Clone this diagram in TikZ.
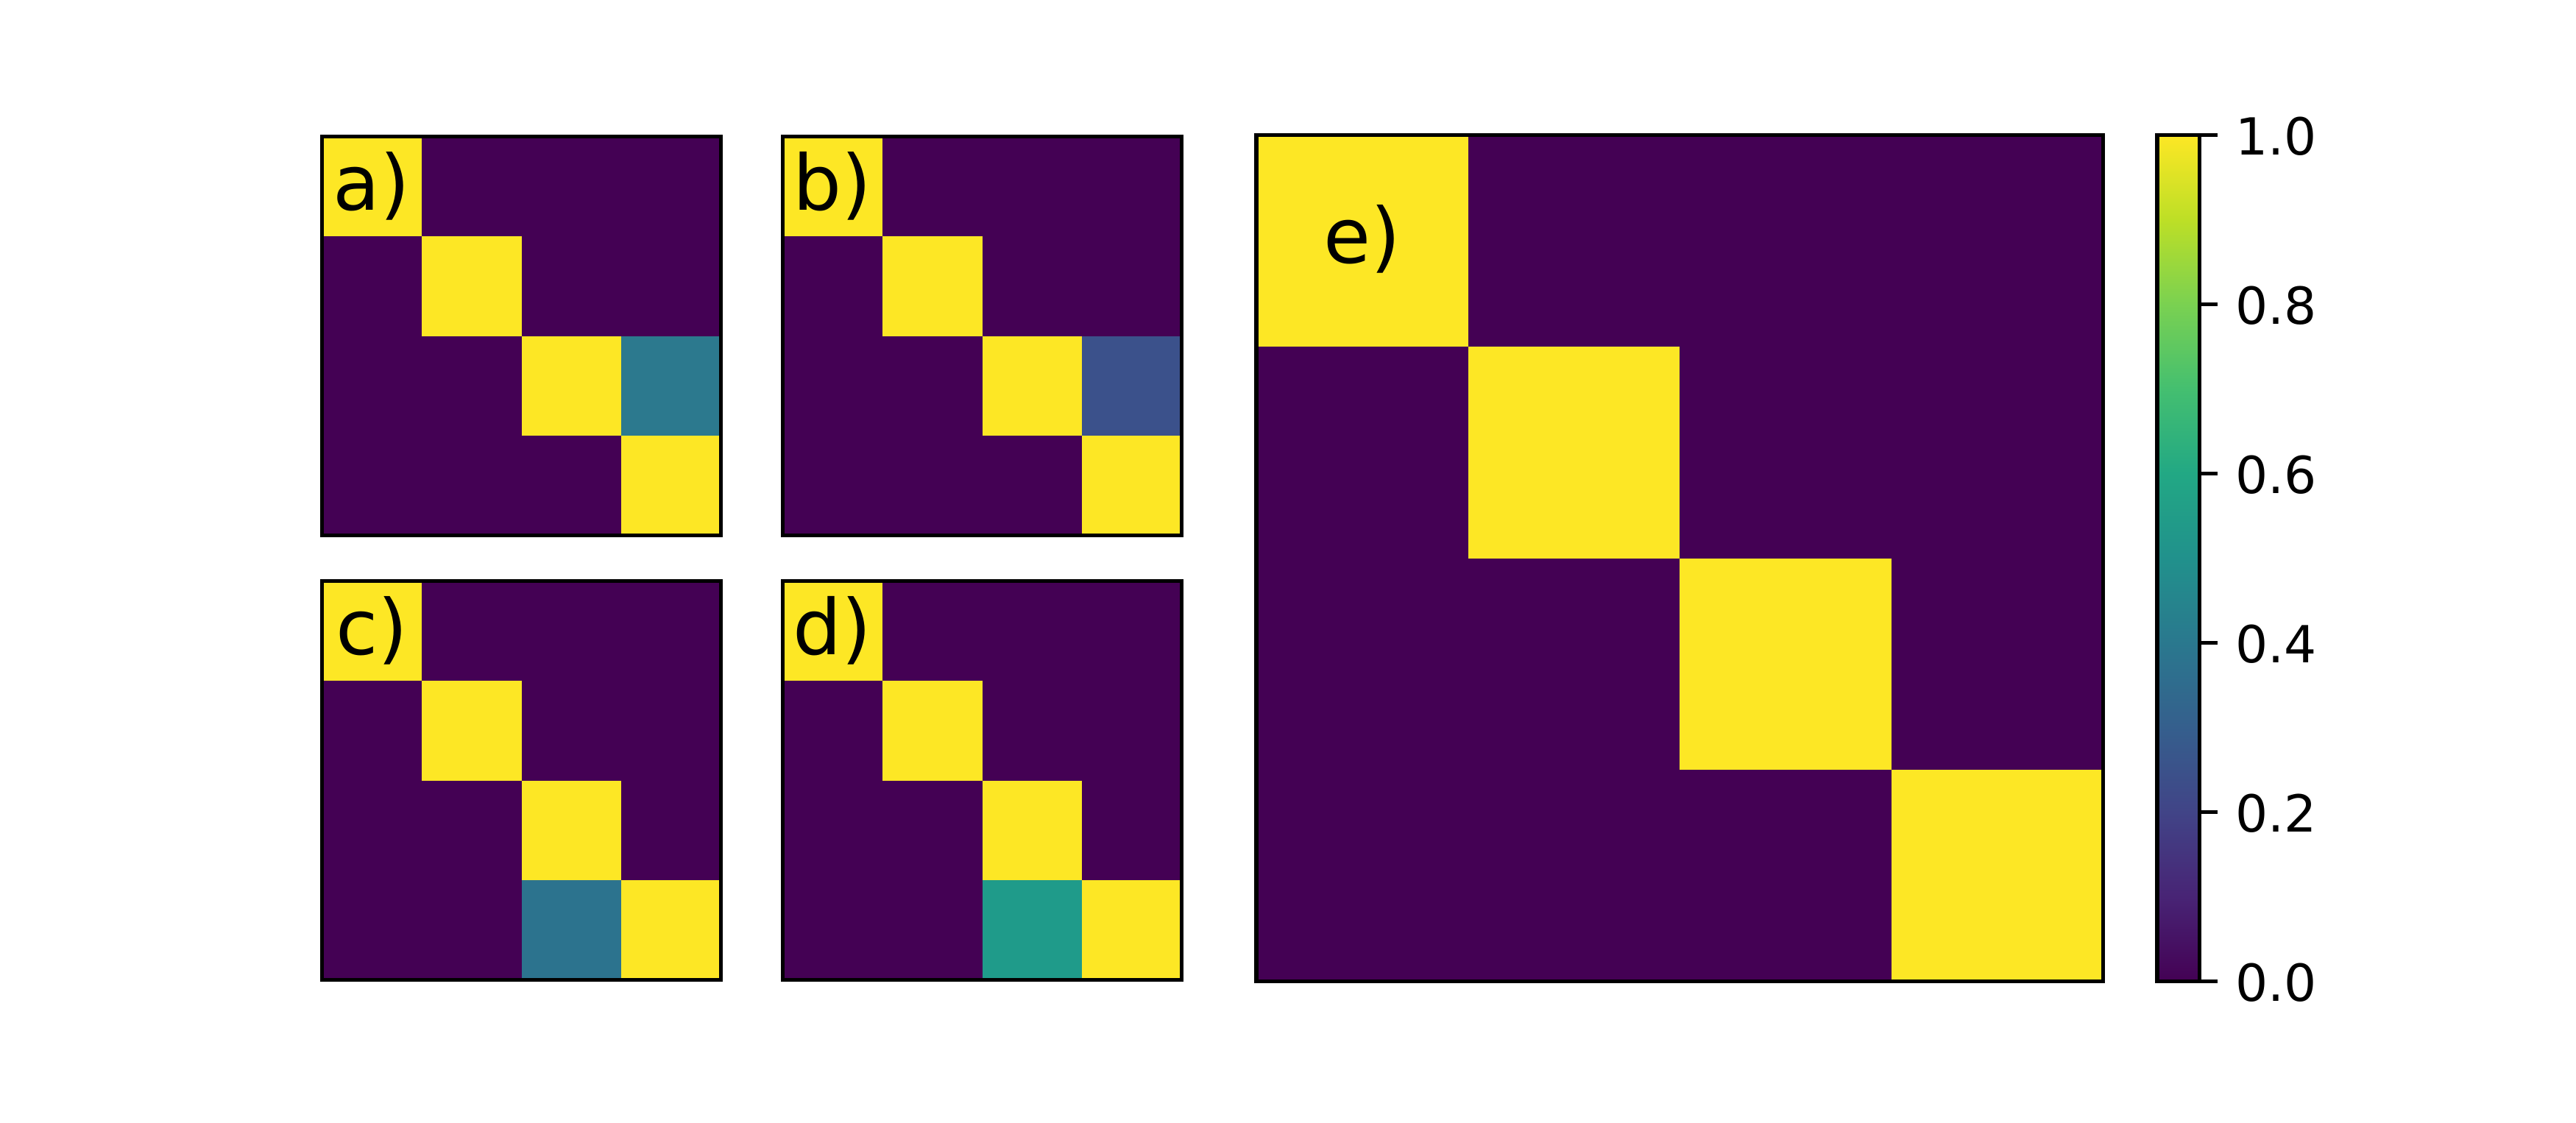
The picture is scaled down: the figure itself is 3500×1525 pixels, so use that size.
\documentclass[tikz,border=0pt]{standalone}
\usepackage{fontspec}
\setmainfont{DejaVu Sans}
\usepackage{tikz}

\definecolor{vlow}{HTML}{440154}
\definecolor{vhigh}{HTML}{FDE725}
\definecolor{vtealA}{HTML}{2C798E}
\definecolor{vblueB}{HTML}{3B518B}
\definecolor{vtealC}{HTML}{2C738E}
\definecolor{vgreenD}{HTML}{1F9B8A}
% viridis stops for the colour bar
\definecolor{v01}{HTML}{482475}
\definecolor{v02}{HTML}{414487}
\definecolor{v03}{HTML}{355F8D}
\definecolor{v04}{HTML}{2A788E}
\definecolor{v05}{HTML}{21918C}
\definecolor{v06}{HTML}{22A884}
\definecolor{v07}{HTML}{44BF70}
\definecolor{v08}{HTML}{7AD151}
\definecolor{v09}{HTML}{BDDF26}
\pgfdeclareverticalshading{viridisbar}{100bp}{color(0bp)=(vlow); color(25bp)=(vlow);
  color(30bp)=(v01); color(35bp)=(v02); color(40bp)=(v03); color(45bp)=(v04);
  color(50bp)=(v05); color(55bp)=(v06); color(60bp)=(v07); color(65bp)=(v08);
  color(70bp)=(v09); color(75bp)=(vhigh); color(100bp)=(vhigh)}

% 4x4 block with yellow diagonal: x, y, cell size
\newcommand{\heatpanel}[3]{%
  \fill[vlow] (#1,#2) rectangle ++(4*#3,4*#3);
  \foreach \i in {0,...,3}
    \fill[vhigh] ({#1+\i*#3},{#2+\i*#3}) rectangle ++(#3,#3);
}

\begin{document}
\begin{tikzpicture}[x=0.144pt, y=-0.144pt]
        \tikzstyle{frame} = [draw=black, line width=0.8pt]
        \tikzstyle{tag} = [font=\fontsize{15}{18}\selectfont, inner sep=0pt]
        \tikzstyle{ticklab} = [font=\fontsize{10}{12}\selectfont, anchor=west, inner sep=0pt]
        \useasboundingbox (0,0) rectangle (3500,1525);
        % small panels
        \heatpanel{437.5}{185.5}{135.5}
        \fill[vtealA] (844,456.5) rectangle ++(135.5,135.5);
        \heatpanel{1063.5}{185.5}{135.5}
        \fill[vblueB] (1470,456.5) rectangle ++(135.5,135.5);
        \heatpanel{437.5}{789.5}{135.5}
        \fill[vtealC] (708.5,1196) rectangle ++(135.5,135.5);
        \heatpanel{1063.5}{789.5}{135.5}
        \fill[vgreenD] (1334.5,1196) rectangle ++(135.5,135.5);
        % large panel
        \heatpanel{1707}{183.5}{287.6}
        \draw[frame] (437.5,185.5) rectangle (979.5,727.5);
        \draw[frame] (1063.5,185.5) rectangle (1605.5,727.5);
        \draw[frame] (437.5,789.5) rectangle (979.5,1331.5);
        \draw[frame] (1063.5,789.5) rectangle (1605.5,1331.5);
        \draw[frame] (1707,183.5) rectangle (2857.5,1333.5);
        \node[tag] (taga) at (505,253) {a)};
        \node[tag] (tagb) at (1131,253) {b)};
        \node[tag] (tagc) at (505,857) {c)};
        \node[tag] (tagd) at (1131,857) {d)};
        \node[tag] (tage) at (1851,325) {e)};
        % colour bar
        \shade[shading=viridisbar] (2931,183.5) rectangle (2988.5,1333.5);
        \draw[frame] (2931,183.5) rectangle (2988.5,1333.5);
        \foreach \k/\lab in {0/0.0, 1/0.2, 2/0.4, 3/0.6, 4/0.8, 5/1.0} {
          \draw[frame] (2988.5,{1333.5-230*\k}) -- ++(24,0);
          \node[ticklab] (tick\k) at (3036,{1335-230*\k}) {\lab};
        }
\end{tikzpicture}
\end{document}
